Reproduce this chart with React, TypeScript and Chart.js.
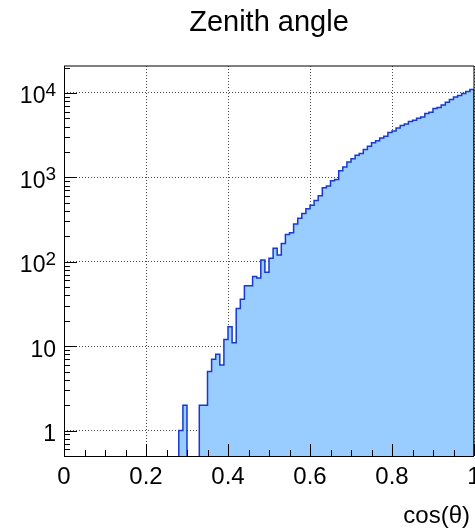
import React, { useEffect, useRef } from "react";
import { Chart, registerables } from "chart.js";

Chart.register(...registerables);

// ---- data ----
const titleText = "Zenith angle";
const xTitleText = "cos(θ)";
const binStart = 0.28;
const binWidth = 0.01;
// counts per bin, from cos(θ)=0.28 to 0.99 (bin width 0.01)
const counts = [
  1, 2, 0, 0, 0, 2, 2, 5, 7, 8,
  6, 12, 17, 11, 28, 36, 52, 52, 67, 64,
  105, 75, 110, 145, 120, 165, 210, 221, 280, 327,
  374, 425, 466, 533, 604, 751, 787, 910, 945, 1195,
  1330, 1520, 1660, 1830, 1916, 2138, 2339, 2560, 2704, 2933,
  3070, 3390, 3547, 3848, 4105, 4290, 4580, 4745, 5012, 5190,
  5690, 5900, 6520, 6700, 7200, 7740, 8340, 8950, 9290, 9820,
  10370, 10950,
];
const xMin = 0;
const xMax = 1;
const xStep = 0.2;
const yMin = 0.5;
const yMax = 20840;
const yTicks = [1, 10, 100, 1000, 10000];
const yTickBase = ["1", "10", "10", "10", "10"];
const yTickExp = ["", "", "2", "3", "4"];

const FONT = '"Liberation Sans", Arial, Helvetica, sans-serif';
const FILL = "rgb(153,204,255)";
const LINE = "rgb(22,58,208)";
const FLOOR = 1e-3; // empty bins are drawn below the visible axis range

function buildPoints() {
  const pts: { x: number; y: number }[] = [{ x: xMin, y: FLOOR }];
  counts.forEach((c, i) => {
    const x = Math.round((binStart + i * binWidth) * 1000) / 1000;
    pts.push({ x, y: c > 0 ? c : FLOOR });
  });
  pts.push({ x: xMax, y: FLOOR });
  return pts;
}

const overlay = {
  id: "overlay",
  afterDatasetsDraw(chart: any) {
    const { ctx, chartArea: a, scales } = chart;
    const xs = scales.x;
    const ys = scales.y;
    ctx.save();
    ctx.strokeStyle = "#000";
    ctx.lineWidth = 1;
    // x axis tick marks (inward)
    ctx.beginPath();
    for (let i = 0; i <= 20; i++) {
      const v = i * 0.05;
      const px = Math.round(xs.getPixelForValue(v)) + 0.5;
      const len = i % 4 === 0 ? 12 : 6;
      ctx.moveTo(px, a.bottom);
      ctx.lineTo(px, a.bottom - len);
    }
    // y axis tick marks (inward)
    for (let d = -1; d <= 4; d++) {
      for (let m = 1; m <= 9; m++) {
        const v = m * Math.pow(10, d);
        if (v < yMin || v > yMax) continue;
        const py = Math.round(ys.getPixelForValue(v)) + 0.5;
        const len = m === 1 ? 13 : 6;
        ctx.moveTo(a.left, py);
        ctx.lineTo(a.left + len, py);
      }
    }
    ctx.stroke();
    // frame
    ctx.beginPath();
    ctx.moveTo(a.left + 0.5, a.top);
    ctx.lineTo(a.left + 0.5, a.bottom + 0.5);
    ctx.lineTo(a.right, a.bottom + 0.5);
    ctx.moveTo(a.left, a.top);
    ctx.lineTo(a.right, a.top);
    ctx.moveTo(a.right, a.top);
    ctx.lineTo(a.right, a.bottom);
    ctx.stroke();

    // y tick labels with exponents
    ctx.fillStyle = "#000";
    ctx.textBaseline = "alphabetic";
    yTicks.forEach((v, i) => {
      const py = ys.getPixelForValue(v);
      const base = yTickBase[i];
      const exp = yTickExp[i];
      const right = 56;
      let expW = 0;
      if (exp) {
        ctx.font = `19px ${FONT}`;
        expW = ctx.measureText(exp).width;
      }
      ctx.font = `23px ${FONT}`;
      ctx.textAlign = "right";
      const baseY = py + 10.5;
      ctx.fillText(base, right - expW, baseY);
      if (exp) {
        ctx.font = `19px ${FONT}`;
        ctx.textAlign = "left";
        ctx.fillText(exp, right - expW, baseY - 7.5);
      }
    });

    // title
    ctx.font = `29px ${FONT}`;
    ctx.textAlign = "center";
    ctx.fillText(titleText, (a.left + a.right) / 2, 31);
    // x axis title
    ctx.font = `24px ${FONT}`;
    ctx.textAlign = "right";
    ctx.fillText(xTitleText, 470, 523);
    ctx.restore();
  },
};

export default function App() {
  const ref = useRef<HTMLCanvasElement | null>(null);
  useEffect(() => {
    document.body.style.margin = "0";
    const canvas = ref.current;
    if (!canvas) return;
    const chart = new Chart(canvas, {
      type: "line",
      data: {
        datasets: [
          {
            data: buildPoints(),
            stepped: "before",
            fill: "start",
            backgroundColor: FILL,
            borderColor: LINE,
            borderWidth: 1.5,
            pointRadius: 0,
            tension: 0,
          },
        ],
      },
      options: {
        animation: false,
        responsive: false,
        devicePixelRatio: 1,
        layout: { padding: { top: 66, right: 1, left: 0, bottom: 0 } },
        plugins: {
          legend: { display: false },
          title: { display: false },
          tooltip: { enabled: false },
        },
        scales: {
          x: {
            type: "linear",
            min: xMin,
            max: xMax,
            ticks: {
              stepSize: xStep,
              color: "#000",
              padding: 7,
              font: { family: FONT, size: 24 },
              maxRotation: 0,
              autoSkip: false,
              callback: (v: any) => String(Math.round(Number(v) * 10) / 10),
            },
            grid: { color: "rgba(0,0,0,0.7)", lineWidth: 1, drawTicks: false },
            border: { display: false, dash: [1, 2] },
            afterFit: (s: any) => {
              s.height = 73;
              s.paddingLeft = 0;
              s.paddingRight = 0;
            },
          },
          y: {
            type: "logarithmic",
            min: yMin,
            max: yMax,
            ticks: { display: false },
            afterBuildTicks: (s: any) => {
              s.ticks = yTicks.map((v) => ({ value: v }));
            },
            grid: { color: "rgba(0,0,0,0.7)", lineWidth: 1, drawTicks: false },
            border: { display: false, dash: [1, 2] },
            afterFit: (s: any) => {
              s.width = 64;
              s.paddingTop = 0;
              s.paddingBottom = 0;
            },
          },
        },
      },
      plugins: [overlay],
    });
    return () => chart.destroy();
  }, []);
  return (
    <div style={{ width: 475, height: 529, background: "#fff" }}>
      <canvas ref={ref} width={475} height={529} style={{ display: "block" }} />
    </div>
  );
}
